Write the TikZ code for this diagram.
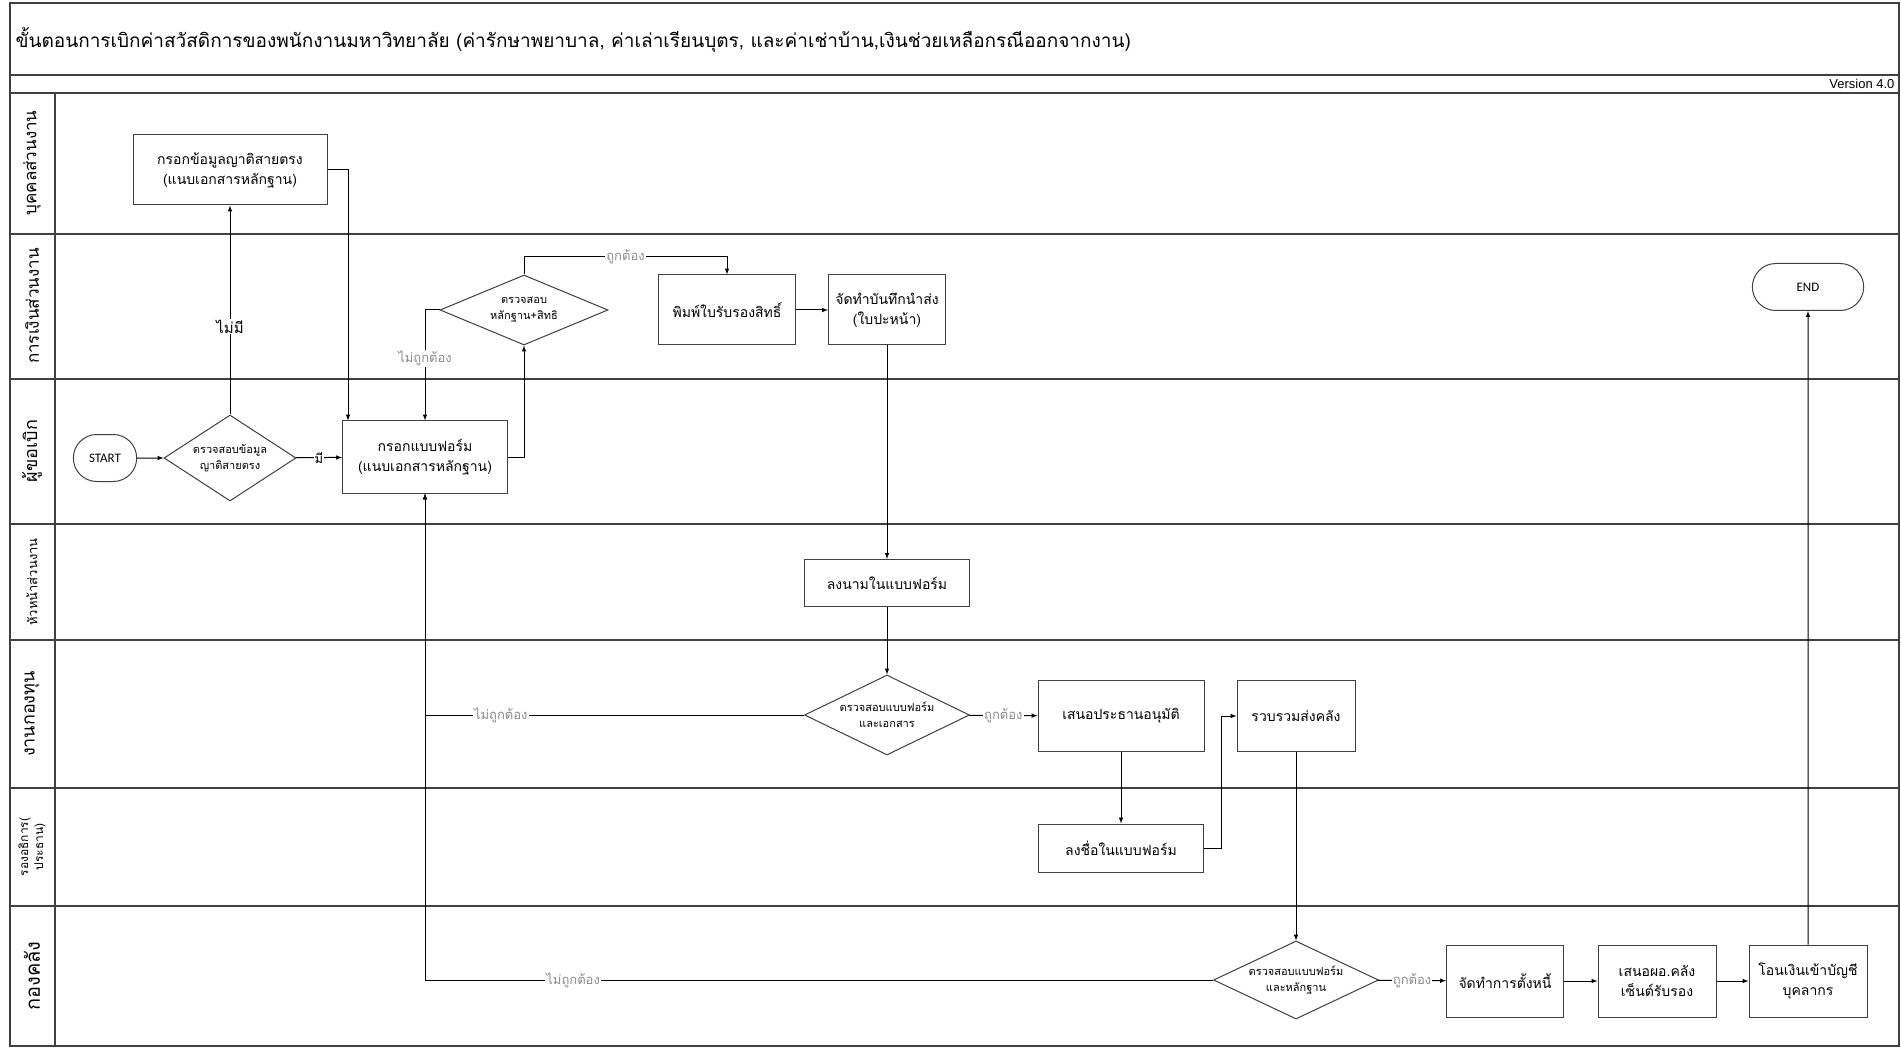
\documentclass[tikz,border=0pt]{standalone}
\usepackage{fontspec}
\setmainfont{Loma}[Script=Thai]
\newfontfamily\latinfont{Liberation Sans}
\newfontfamily\capfont{Carlito}
\usetikzlibrary{shapes,arrows}

\begin{document}
\begin{tikzpicture}[x=1pt,y=-1pt,
        frame/.style={draw=black!75,line width=1.3pt},
        box/.style={draw=black!75,line width=1pt,fill=white,align=center,font=\fontsize{14}{20}\selectfont},
        dec/.style={diamond,aspect=2,inner sep=0pt,draw=black!75,line width=1pt,fill=white,align=center,font=\fontsize{11}{16}\selectfont},
        term/.style={rounded rectangle,draw=black!75,line width=1pt,minimum width=70,minimum height=47,font=\capfont\fontsize{13}{15}\selectfont},
        flow/.style={-latex,line width=1pt},
        glbl/.style={fill=white,inner sep=1pt,text=black!45,font=\fontsize{13}{15}\selectfont},
        ylbl/.style={fill=white,inner sep=1pt,font=\fontsize{13}{15}\selectfont},
        lanelbl/.style={rotate=90,align=center}]
        \fill[white] (0,0) rectangle (1901,1048);
        \draw[frame] (10,3) rectangle (1899,1046);
        \draw[frame] (10,75) -- (1899,75);
        \draw[frame] (10,93) -- (1899,93);
        \foreach \y in {234,379,524,640,788,906}
            \draw[frame] (10,\y) -- (1899,\y);
        \draw[frame] (55,93) -- (55,1046);
        \node[anchor=west,font=\fontsize{19}{22}\selectfont] (title) at (12,40) {ขั้นตอนการเบิกค่าสวัสดิการของพนักงานมหาวิทยาลัย (ค่ารักษาพยาบาล, ค่าเล่าเรียนบุตร, และค่าเช่าบ้าน,เงินช่วยเหลือกรณีออกจากงาน)};
        \node[anchor=east,font=\latinfont\fontsize{13}{15}\selectfont] (version) at (1898,84) {Version 4.0};
        % lanes
        \node[lanelbl,font=\fontsize{17}{20}\selectfont] (lane1) at (32,163) {บุคคลส่วนงาน};
        \node[lanelbl,font=\fontsize{17}{20}\selectfont] (lane2) at (32,306) {การเงินส่วนงาน};
        \node[lanelbl,font=\fontsize{18}{20}\selectfont] (lane3) at (32,451) {ผู้ขอเบิก};
        \node[lanelbl,font=\fontsize{13}{16}\selectfont] (lane4) at (32,582) {หัวหน้าส่วนงาน};
        \node[lanelbl,font=\fontsize{18}{20}\selectfont] (lane5) at (32,714) {งานกองทุน};
        \node[lanelbl,font=\fontsize{12}{15}\selectfont] (lane6) at (32,847) {รองอธิการ(\\ประธาน)};
        \node[lanelbl,font=\fontsize{20}{24}\selectfont] (lane7) at (32,976) {กองคลัง};
        % steps
        \node[term] (start) at (105,458) {START};
        \node[dec,minimum width=132,minimum height=86] (chkrel) at (230,458) {ตรวจสอบข้อมูล\\ญาติสายตรง};
        \node[box,minimum width=194,minimum height=70] (relinfo) at (230,170) {กรอกข้อมูลญาติสายตรง\\(แนบเอกสารหลักฐาน)};
        \node[box,minimum width=165,minimum height=72] (form) at (425,457) {กรอกแบบฟอร์ม\\(แนบเอกสารหลักฐาน)};
        \node[dec,minimum width=168,minimum height=70] (chkright) at (524,310) {ตรวจสอบ\\หลักฐาน+สิทธิ};
        \node[box,minimum width=137,minimum height=70] (print) at (727,310) {พิมพ์ใบรับรองสิทธิ์};
        \node[box,minimum width=117,minimum height=70] (memo) at (887,310) {จัดทำบันทึกนำส่ง\\(ใบปะหน้า)};
        \node[box,minimum width=165,minimum height=47] (sign) at (887,583) {ลงนามในแบบฟอร์ม};
        \node[dec,minimum width=165,minimum height=80] (chkfund) at (887,715) {ตรวจสอบแบบฟอร์ม\\และเอกสาร};
        \node[box,minimum width=166,minimum height=71] (propose) at (1121,716) {เสนอประธานอนุมัติ};
        \node[box,minimum width=165,minimum height=48] (vpsign) at (1121,848) {ลงชื่อในแบบฟอร์ม};
        \node[box,minimum width=118,minimum height=71] (collect) at (1296,716) {รวบรวมส่งคลัง};
        \node[dec,minimum width=165,minimum height=78] (chkfin) at (1296,980) {ตรวจสอบแบบฟอร์ม\\และหลักฐาน};
        \node[box,minimum width=117,minimum height=72] (debt) at (1505,981) {จัดทำการตั้งหนี้};
        \node[box,minimum width=118,minimum height=72] (dirsign) at (1657,981) {เสนอผอ.คลัง\\เซ็นต์รับรอง};
        \node[box,minimum width=118,minimum height=72] (transfer) at (1808,981) {โอนเงินเข้าบัญชี\\บุคลากร};
        \node[term,minimum width=118] (end) at (1808,287) {END};
        % connectors
        \draw[flow] (start) -- (chkrel);
        \draw[flow] (chkrel) -- node[ylbl,font=\fontsize{15}{17}\selectfont,pos=0.42] {ไม่มี} (relinfo);
        \draw[flow] (chkrel) -- node[ylbl,pos=0.5] {มี} (form);
        \draw[flow] (relinfo.east) -| ([xshift=6pt]form.north west);
        \draw[flow] (form.east) -| (chkright.south);
        \draw[flow] (chkright.west) -| node[glbl,pos=0.72] {ไม่ถูกต้อง} (form.north);
        \draw[flow] (chkright.north) -- ++(0,-18) -| node[glbl,pos=0.25] {ถูกต้อง} (print.north);
        \draw[flow] (print) -- (memo);
        \draw[flow] (memo) -- (sign);
        \draw[flow] (sign) -- (chkfund);
        \draw[flow] (chkfund) -- node[glbl] {ถูกต้อง} (propose);
        \draw[flow] (chkfund.west) -| node[glbl,pos=0.4] {ไม่ถูกต้อง} (form.south);
        \draw[flow] (propose) -- (vpsign);
        \draw[flow] (vpsign.east) -- ++(17,0) |- (collect.west);
        \draw[flow] (collect) -- (chkfin);
        \draw[flow] (chkfin.west) -| node[glbl,pos=0.406] {ไม่ถูกต้อง} (form.south);
        \draw[flow] (chkfin) -- node[glbl] {ถูกต้อง} (debt);
        \draw[flow] (debt) -- (dirsign);
        \draw[flow] (dirsign) -- (transfer);
        \draw[flow] (transfer) -- (end);
\end{tikzpicture}
\end{document}
